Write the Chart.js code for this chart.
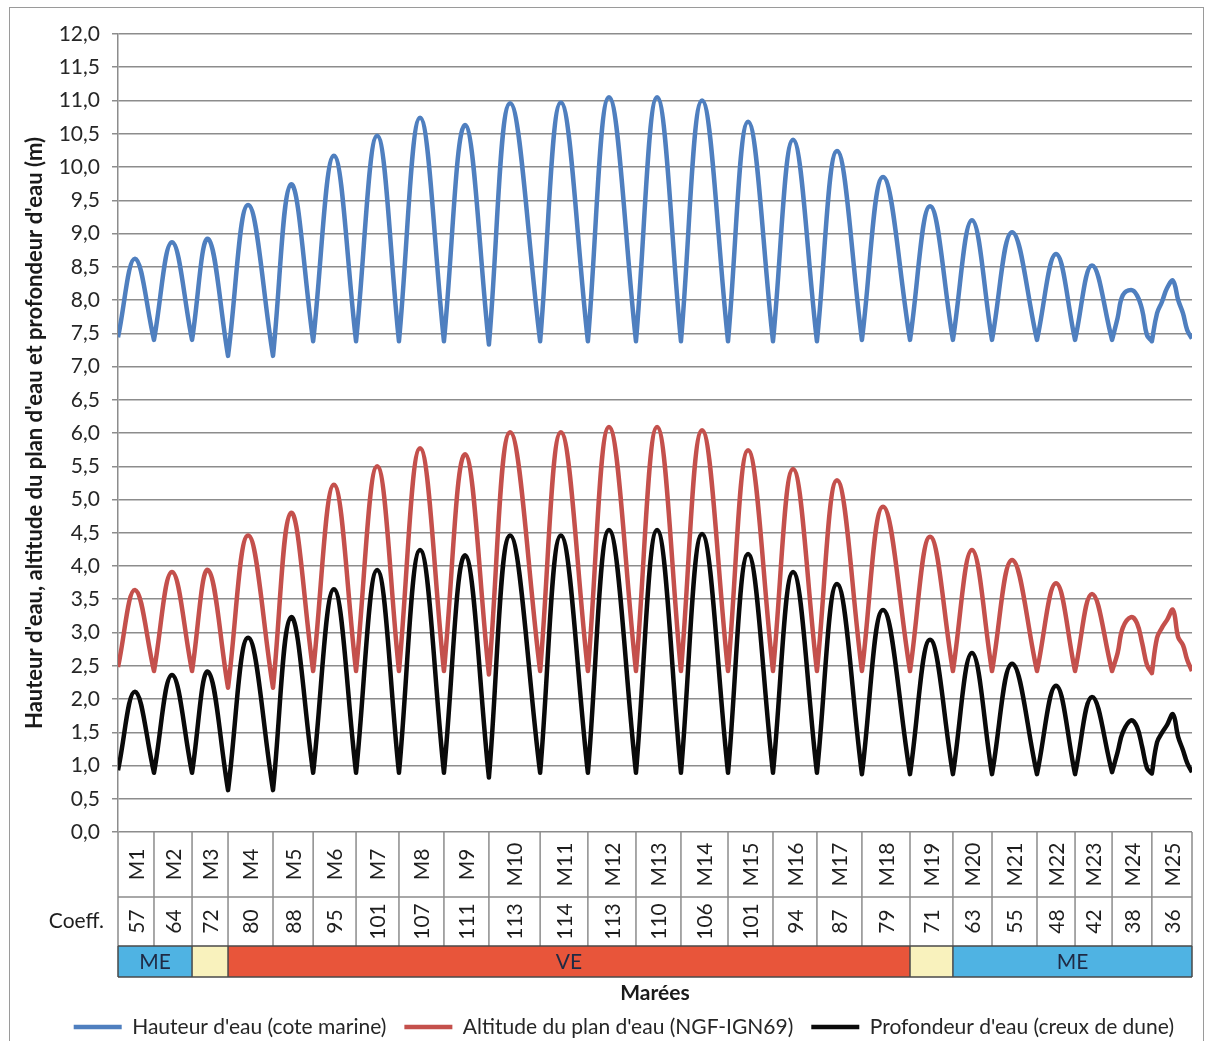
<!DOCTYPE html>
<html>
<head>
<meta charset="utf-8">
<script src="https://cdn.jsdelivr.net/npm/chart.js@4.4.1/dist/chart.umd.min.js"></script>
<style>
html,body{margin:0;padding:0;background:#fff;}
#wrap{position:relative;width:1210px;height:1041px;overflow:hidden;background:#fff;}
canvas{position:absolute;left:0;top:0;}
#frame{position:absolute;left:9px;top:7px;width:1195px;height:1060px;border:1.5px solid #9a9a9a;box-sizing:border-box;pointer-events:none;}
</style>
</head>
<body>
<div id="wrap"><canvas id="c" width="1210" height="1041"></canvas><div id="frame"></div></div>
<script>
// ---------- DATA ----------
const tideNames = ['M1','M2','M3','M4','M5','M6','M7','M8','M9','M10','M11','M12','M13','M14','M15','M16','M17','M18','M19','M20','M21','M22','M23','M24','M25'];
const coefficients = [57,64,72,80,88,95,101,107,111,113,114,113,110,106,101,94,87,79,71,63,55,48,42,38,36];

// phases (index of first tide, index after last tide)
const phaseLabels = ['ME','','VE','','ME'];
const phaseStart = [0,2,3,18,19];
const phaseEnd   = [2,3,18,19,25];
const phaseColors = ['#4fb3e3','#f9f2bd','#e8553a','#f9f2bd','#4fb3e3'];

// time (h) of low waters (tide limits) and high waters
const lowTimes  = [0,10.4,21.4,31.8,44.8,56.4,68.8,81.2,94.2,107.2,122.0,135.8,149.7,162.7,176.3,189.3,202.0,215.0,228.9,241.3,252.6,265.6,276.6,287.3,298.8,310.4];
const highTimes = [4.9,15.6,26.0,37.6,50.0,62.4,74.9,87.3,100.3,113.3,128.0,141.9,155.8,168.8,182.1,195.1,207.8,221.1,234.7,246.8,258.4,271.1,281.5,292.8,304.9];

// Hauteur d'eau (cote marine)
const hauteurLow  = [7.44,7.40,7.40,7.16,7.16,7.38,7.38,7.38,7.38,7.33,7.38,7.38,7.38,7.38,7.38,7.38,7.38,7.40,7.40,7.40,7.40,7.40,7.40,7.40,7.38,7.42];
const hauteurHigh = [8.62,8.87,8.92,9.43,9.74,10.17,10.47,10.74,10.63,10.96,10.97,11.05,11.05,11.00,10.68,10.41,10.24,9.85,9.41,9.20,9.02,8.69,8.52,8.15,8.29];
// Altitude du plan d'eau (NGF-IGN69)
const altitudeLow  = [2.48,2.42,2.42,2.17,2.17,2.42,2.42,2.42,2.42,2.37,2.42,2.42,2.42,2.42,2.42,2.42,2.42,2.42,2.42,2.42,2.42,2.42,2.42,2.42,2.39,2.42];
const altitudeHigh = [3.64,3.91,3.94,4.46,4.80,5.22,5.50,5.77,5.68,6.01,6.01,6.09,6.09,6.04,5.74,5.46,5.29,4.89,4.44,4.24,4.09,3.74,3.58,3.23,3.34];
// Profondeur d'eau (creux de dune)
const profondeurLow  = [0.93,0.89,0.89,0.63,0.63,0.89,0.89,0.89,0.89,0.82,0.89,0.89,0.89,0.89,0.89,0.89,0.89,0.87,0.87,0.87,0.87,0.87,0.87,0.90,0.88,0.90];
const profondeurHigh = [2.11,2.36,2.41,2.92,3.23,3.65,3.94,4.24,4.16,4.46,4.46,4.54,4.54,4.48,4.18,3.91,3.73,3.34,2.89,2.69,2.53,2.20,2.03,1.68,1.77];

// irregular readings during the last two (neap) tides
const detailTimes      = [288.9,290.4,294.5,296.0,297.4,300.3,301.7,303.2,306.4,307.8,309.0];
const hauteurDetail    = [7.73,8.07,8.07,7.85,7.47,7.80,7.97,8.18,8.00,7.80,7.55];
const altitudeDetail   = [2.69,3.07,3.14,2.84,2.51,2.92,3.07,3.19,2.93,2.81,2.59];
const profondeurDetail = [1.20,1.50,1.58,1.28,0.96,1.35,1.49,1.61,1.43,1.23,1.04];

const yTickMin = 0, yTickMax = 12, yTickStep = 0.5;

// ---------- build point tables ----------
function buildSeries(lows, highs, detail) {
  const pts = [];
  lowTimes.forEach((t, i) => pts.push({x: t, y: lows[i], low: i > 0 && i < lowTimes.length - 1}));
  highTimes.forEach((t, i) => pts.push({x: t, y: highs[i]}));
  detailTimes.forEach((t, i) => pts.push({x: t, y: detail[i]}));
  pts.sort((a, b) => a.x - b.x);
  const out = [];
  pts.forEach(p => {
    out.push({x: p.x, y: p.y});
    if (p.low) out.push({x: p.x, y: p.y}); // sharp low-water turn
  });
  return out;
}

const FONT = 'Lato';
Chart.defaults.font.family = FONT;
Chart.defaults.color = '#262626';

const tablePlugin = {
  id: 'tideTable',
  afterDraw(chart) {
    const {ctx, chartArea, scales} = chart;
    const x = scales.x;
    const top = chartArea.bottom;
    const r1 = top + 65, r2 = r1 + 49, r3 = r2 + 31;
    const px = lowTimes.map(t => x.getPixelForValue(t));
    const L = px[0], R = px[px.length - 1];
    ctx.save();
    // phase band fills
    phaseLabels.forEach((lab, k) => {
      const a = px[phaseStart[k]], b = px[phaseEnd[k]];
      ctx.fillStyle = phaseColors[k];
      ctx.fillRect(a, r2, b - a, r3 - r2);
    });
    // cell lines
    ctx.strokeStyle = '#8c8c8c';
    ctx.lineWidth = 1.5;
    ctx.beginPath();
    px.forEach(p => { ctx.moveTo(p, top); ctx.lineTo(p, r2); });
    ctx.moveTo(L, r1); ctx.lineTo(R, r1);
    ctx.stroke();
    // band borders
    ctx.strokeStyle = '#4a4a4a';
    ctx.lineWidth = 1.5;
    ctx.beginPath();
    ctx.moveTo(L, r2); ctx.lineTo(R, r2);
    ctx.moveTo(L, r3); ctx.lineTo(R, r3);
    ctx.moveTo(L, r2); ctx.lineTo(L, r3);
    phaseEnd.forEach(e => { ctx.moveTo(px[e], r2); ctx.lineTo(px[e], r3); });
    ctx.stroke();
    // texts
    ctx.fillStyle = '#1e1e1e';
    ctx.font = '21px ' + FONT;
    ctx.textAlign = 'center';
    ctx.textBaseline = 'middle';
    tideNames.forEach((n, i) => {
      const cx = (px[i] + px[i + 1]) / 2;
      ctx.save(); ctx.translate(cx, (top + r1) / 2); ctx.rotate(-Math.PI / 2);
      ctx.fillText(n, 0, 1); ctx.restore();
      ctx.save(); ctx.translate(cx, (r1 + r2) / 2); ctx.rotate(-Math.PI / 2);
      ctx.fillText(String(coefficients[i]), 0, 1); ctx.restore();
    });
    ctx.textAlign = 'right';
    ctx.fillText('Coeff.', L - 14, (r1 + r2) / 2);
    ctx.textAlign = 'center';
    ctx.fillStyle = '#1f2a44';
    phaseLabels.forEach((lab, k) => {
      if (!lab) return;
      const a = px[phaseStart[k]], b = px[phaseEnd[k]];
      ctx.fillText(lab, (a + b) / 2, (r2 + r3) / 2 + 1);
    });
    ctx.restore();
  }
};

const lineStyle = {pointRadius: 0, borderWidth: 4.5, tension: 0.4, borderJoinStyle: 'round', fill: false};

new Chart(document.getElementById('c'), {
  type: 'line',
  data: {
    datasets: [
      Object.assign({label: "Hauteur d'eau (cote marine)", data: buildSeries(hauteurLow, hauteurHigh, hauteurDetail), borderColor: '#4f7fbf', backgroundColor: '#4f7fbf'}, lineStyle),
      Object.assign({label: "Altitude du plan d'eau (NGF-IGN69)", data: buildSeries(altitudeLow, altitudeHigh, altitudeDetail), borderColor: '#c4504c', backgroundColor: '#c4504c'}, lineStyle),
      Object.assign({label: "Profondeur d'eau (creux de dune)", data: buildSeries(profondeurLow, profondeurHigh, profondeurDetail), borderColor: '#0a0a0a', backgroundColor: '#0a0a0a'}, lineStyle)
    ]
  },
  options: {
    responsive: false,
    animation: false,
    devicePixelRatio: 1,
    layout: {padding: {left: 0, right: 18, top: 34, bottom: -6.5}},
    plugins: {
      tooltip: {enabled: false},
      legend: {
        position: 'bottom',
        align: 'end',
        labels: {
          usePointStyle: true,
          pointStyle: 'line',
          pointStyleWidth: 48,
          padding: 18,
          color: '#262626',
          font: {size: 21, family: FONT}
        }
      }
    },
    scales: {
      x: {
        type: 'linear',
        min: lowTimes[0],
        max: lowTimes[lowTimes.length - 1],
        ticks: {display: false},
        grid: {display: false},
        border: {display: false},
        title: {display: true, text: 'Marées', color: '#1a1a1a', font: {size: 21, weight: 'bold', family: FONT, lineHeight: 1}, padding: {top: 0, bottom: -5}},
        afterFit(s) { s.height = 166.5; }
      },
      y: {
        min: yTickMin,
        max: yTickMax,
        ticks: {
          stepSize: yTickStep,
          autoSkip: false,
          padding: 12,
          color: '#262626',
          font: {size: 21, family: FONT},
          callback: v => v.toFixed(1).replace('.', ',')
        },
        grid: {color: '#8c8c8c', lineWidth: 1.5, tickLength: 6, drawTicks: true},
        border: {display: true, color: '#8c8c8c', width: 1.5},
        title: {display: true, text: "Hauteur d'eau, altitude du plan d'eau et profondeur d'eau (m)", color: '#1a1a1a', font: {size: 22, weight: 'bold', family: FONT}, padding: {top: 22, bottom: 0}},
        afterFit(s) { s.width = 118; }
      }
    }
  },
  plugins: [tablePlugin]
});
</script>
</body>
</html>
